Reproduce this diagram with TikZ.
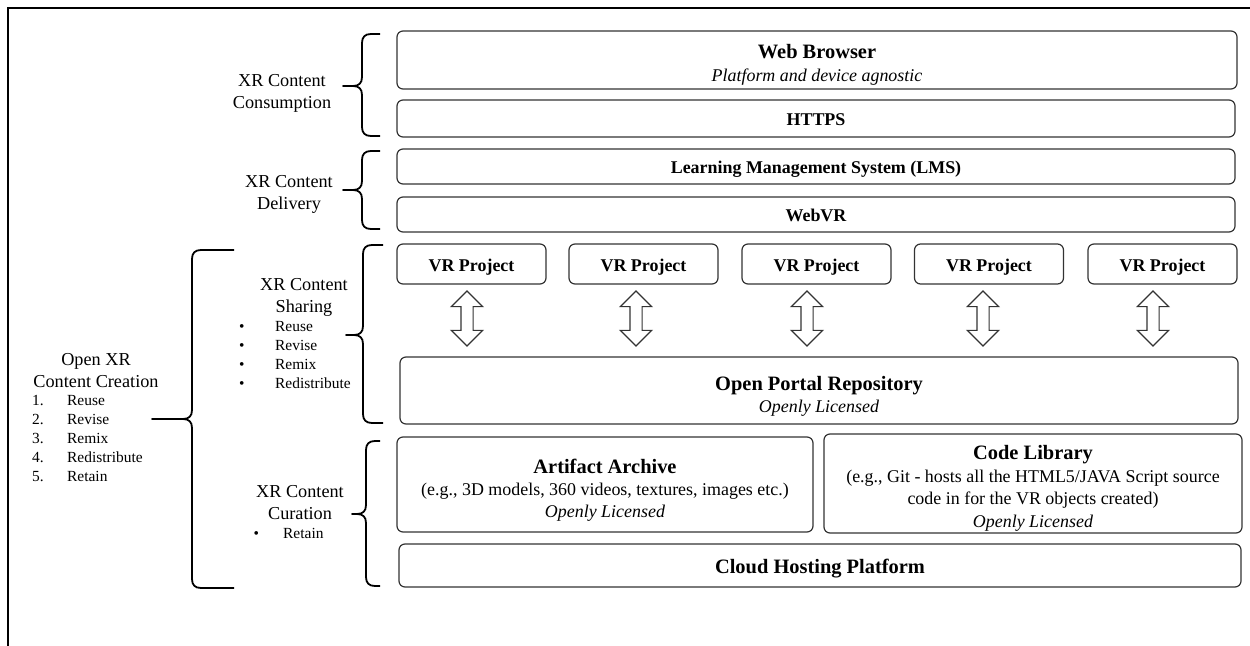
\documentclass[tikz,border=0pt]{standalone}
\usepackage{fontspec}
\setmainfont{Liberation Serif}
\usetikzlibrary{shapes.arrows}
\newcommand\ttlfont{\fontsize{20.5}{22.5}\selectfont\bfseries}
\newcommand\pushup[1]{\rule{0pt}{#1}}
\newcommand\curlyb[6]{%
 \draw[brc] (#1,#4) -- (#2+9,#4) .. controls (#2+3,#4) and (#2,#4+3) .. (#2,#4+9)
  -- (#2,#5-9) .. controls (#2,#5-3) and (#2-3,#5) .. (#2-9,#5) -- (#3,#5)
  -- (#2-9,#5) .. controls (#2-3,#5) and (#2,#5+3) .. (#2,#5+9)
  -- (#2,#6-9) .. controls (#2,#6-3) and (#2+3,#6) .. (#2+9,#6) -- (#1,#6);}
\begin{document}
\begin{tikzpicture}[x=1bp,y=-1bp,
  box/.style={draw=black!80, line width=1.2bp, rounded corners=6bp, inner sep=0pt, align=center, font=\fontsize{18}{22.5}\selectfont},
  hbox/.style={box, font=\fontsize{18}{22}\selectfont\bfseries, text height=14.5bp, text depth=0.5bp},
  vrbox/.style={hbox, text height=16bp, text depth=0bp, minimum width=149bp, minimum height=40bp},
  lbl/.style={align=center, inner sep=0pt, font=\fontsize{18.3}{22}\selectfont},
  lst/.style={inner sep=0pt, anchor=base west, font=\fontsize{15.5}{19}\selectfont},
  brc/.style={line width=1.8bp, black, line join=round},
  dbl/.style={double arrow, draw=black!80, line width=1.2bp, inner xsep=0pt, inner ysep=5.5bp, minimum height=55bp, double arrow head extend=9.5bp, rotate=90}
]
\useasboundingbox (0,0) rectangle (1250,646);
% frame
\draw[line width=2bp] (8,646) -- (8,8) -- (1250,8);

% stack of boxes
\node[box, minimum width=840bp, minimum height=58bp] (web) at (817,60) {\pushup{24bp}{\ttlfont Web Browser}\\\textit{Platform and device agnostic}};
\node[hbox, minimum width=838bp, minimum height=37bp] (https) at (816,118.5) {HTTPS};
\node[hbox, minimum width=838bp, minimum height=35bp] (lms) at (816,166.5) {Learning Management System (LMS)};
\node[hbox, minimum width=838bp, minimum height=35bp] (webvr) at (816,214.5) {WebVR};

\node[vrbox] (vr1) at (471.5,264) {VR Project};
\node[vrbox] (vr2) at (643.5,264) {VR Project};
\node[vrbox] (vr3) at (816.5,264) {VR Project};
\node[vrbox] (vr4) at (989,264) {VR Project};
\node[vrbox] (vr5) at (1162.5,264) {VR Project};

\node[dbl] (a1) at (467,318.5) {};
\node[dbl] (a2) at (636,318.5) {};
\node[dbl] (a3) at (807,318.5) {};
\node[dbl] (a4) at (983,318.5) {};
\node[dbl] (a5) at (1153,318.5) {};

\node[box, minimum width=838bp, minimum height=67bp] (portal) at (819,390.5) {\pushup{26bp}{\ttlfont Open Portal Repository}\\\textit{Openly Licensed}};

\node[box, minimum width=416bp, minimum height=95bp] (artifact) at (605,484.5) {\pushup{26bp}{\ttlfont Artifact Archive}\\(e.g., 3D models, 360 videos, textures, images etc.)\\\textit{Openly Licensed}};
\node[box, minimum width=418bp, minimum height=99bp] (code) at (1033,483.5) {\pushup{24bp}{\ttlfont Code Library}\\(e.g., Git - hosts all the HTML5/JAVA Script source\\code in for the VR objects created)\\\textit{Openly Licensed}};
\node[box, minimum width=842bp, minimum height=43bp] (cloud) at (820,565.5) {\pushup{20bp}{\ttlfont Cloud Hosting Platform}};

% braces
\curlyb{380}{362}{343}{34}{86}{136}
\curlyb{380}{362}{343}{151}{190}{229}
\curlyb{383}{363}{346}{245}{335}{423}
\curlyb{380}{366}{352}{441}{514}{586}
\curlyb{234}{192}{152}{250}{419}{588}

% labels
\node[lbl] (consum) at (282,93) {XR Content\\Consumption};
\node[lbl] (deliv) at (289,194) {XR Content\\Delivery};
\node[lbl] (share) at (304,297) {XR Content\\Sharing};
\node[lbl] (curat) at (300,502.5) {XR Content\\Curation};
\node[lbl] (openxr) at (96,370.5) {Open XR\\Content Creation};

\node[lst] (sharelist) at (239,332) {\begin{tabular}[t]{@{}p{36bp}@{}l@{}}•&Reuse\\•&Revise\\•&Remix\\•&Redistribute\end{tabular}};
\node[lst] (curatlist) at (253.5,538) {\begin{tabular}[t]{@{}p{29.5bp}@{}l@{}}•&Retain\end{tabular}};
\node[lst] (openlist) at (32,405.5) {\begin{tabular}[t]{@{}p{35bp}@{}l@{}}1.&Reuse\\2.&Revise\\3.&Remix\\4.&Redistribute\\5.&Retain\end{tabular}};
\end{tikzpicture}
\end{document}
